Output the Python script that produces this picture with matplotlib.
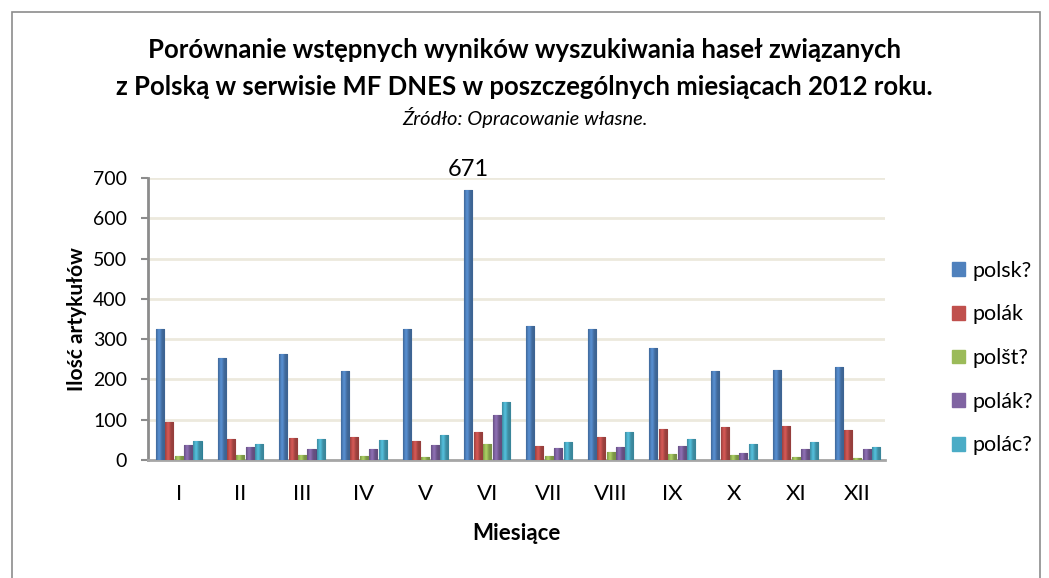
import matplotlib.pyplot as plt
import matplotlib.patches as mpatches
import matplotlib.colors as mcolors
import numpy as np

plt.rcParams['font.family'] = ['Lato', 'DejaVu Sans']

months = ['I', 'II', 'III', 'IV', 'V', 'VI', 'VII', 'VIII', 'IX', 'X', 'XI', 'XII']
series_names = ['polsk?', 'polák', 'polšt?', 'polák?', 'polác?']
polsk = [324, 254, 264, 220, 326, 671, 333, 325, 277, 220, 224, 230]
polak = [95, 53, 55, 57, 48, 70, 34, 56, 77, 81, 84, 74]
polst = [10, 12, 13, 10, 8, 40, 11, 20, 14, 12, 7, 5]
polak2 = [38, 31, 26, 26, 36, 111, 29, 31, 35, 18, 27, 27]
polac = [46, 40, 53, 49, 63, 145, 45, 69, 51, 40, 44, 31]
colors = ['#4F81BD', '#C0504D', '#9BBB59', '#8064A2', '#4BACC6']
edges = ['#2E5A8E', '#8E2F2C', '#6D8A35', '#5A447A', '#2C7F96']

fig = plt.figure(figsize=(10.49, 5.78), dpi=100)
fig.patches.append(mpatches.Rectangle((12 / 1049, -0.01), 1028 / 1049, 1 - 12 / 578 + 0.01,
                                      transform=fig.transFigure, fill=False,
                                      edgecolor='#8C8C8C', linewidth=1.2))

ax = fig.add_axes([0.141, 0.2042, 0.7027, 0.4879])
x = np.arange(len(months))
w = 0.13
step = 0.152

# horizontal shading profile to give the bars a rounded look
t = np.linspace(0, 1, 40)
shade = 0.78 + 0.32 * np.exp(-((t - 0.35) / 0.25) ** 2)

for i, vals in enumerate([polsk, polak, polst, polak2, polac]):
    bars = ax.bar(x + (i - 2) * step, vals, width=w, color=colors[i], edgecolor=edges[i],
                  linewidth=0.8, label=series_names[i], zorder=3)
    rgb = np.array(mcolors.to_rgb(colors[i]))
    grad = np.clip(rgb[None, :] * shade[:, None], 0, 1)[None, :, :]
    for b in bars:
        x0, h = b.get_x(), b.get_height()
        im = ax.imshow(grad, extent=(x0, x0 + b.get_width(), 0, h), aspect='auto',
                       zorder=3.5, interpolation='bilinear')
        im.set_clip_path(b)

ax.text(5 - 2 * step, 671 + 24, '671', ha='center', va='bottom', fontsize=17)

ax.set_xlim(-0.5, 11.45)
ax.set_ylim(0, 700)
ax.set_yticks(range(0, 701, 100))
ax.set_xticks(x)
ax.set_xticklabels(months, fontsize=16)
ax.tick_params(axis='y', labelsize=14, length=5, width=1.5, color='#8C8C8C', pad=10)
ax.tick_params(axis='x', length=0, pad=17)
ax.grid(axis='y', color='#ECE9DD', linewidth=2, zorder=0)
for s in ['top', 'right']:
    ax.spines[s].set_visible(False)
ax.spines['left'].set_color('#8C8C8C')
ax.spines['left'].set_linewidth(2)
ax.spines['bottom'].set_color('#A6A6A6')
ax.spines['bottom'].set_linewidth(2)

ax.set_xlabel('Miesiące', fontsize=16, fontweight='bold', labelpad=14)
ax.set_ylabel('Ilość artykułów', fontsize=15, fontweight='bold', labelpad=4)

fig.text(0.5, 1 - 50 / 578, 'Porównanie wstępnych wyników wyszukiwania haseł związanych',
         ha='center', va='center', fontsize=18.5, fontweight='bold')
fig.text(0.5, 1 - 87 / 578, 'z Polską w serwisie MF DNES w poszczególnych miesiącach 2012 roku.',
         ha='center', va='center', fontsize=18.5, fontweight='bold')
fig.text(0.5, 1 - 118 / 578, 'Źródło: Opracowanie własne.',
         ha='center', va='center', fontsize=14.5, style='italic')

handles = [mpatches.Patch(color=c) for c in colors]
fig.legend(handles, series_names, loc='center left', bbox_to_anchor=(0.908, 1 - 358 / 578),
           frameon=False, fontsize=15.5, labelspacing=1.1, handlelength=0.6,
           handleheight=0.6, handletextpad=0.35, borderpad=0, borderaxespad=0)

fig.savefig('out.png', dpi=100)
